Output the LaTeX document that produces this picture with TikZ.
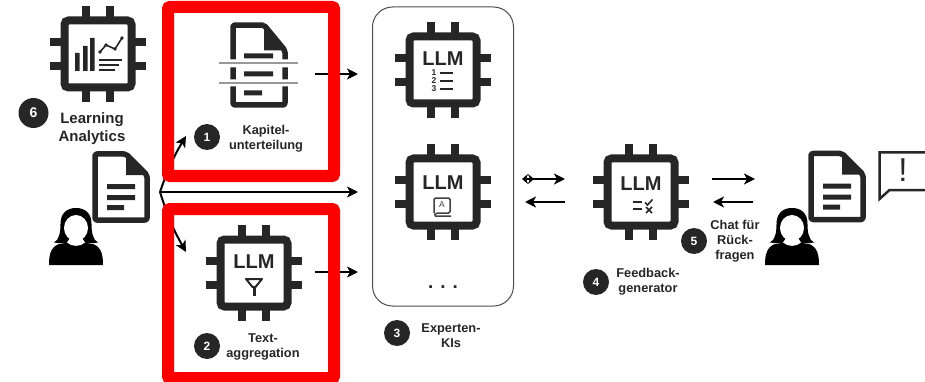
\documentclass[tikz,border=0pt]{standalone}
\usepackage{fontspec}
\setmainfont{Liberation Sans}
\usetikzlibrary{arrows.meta}
\definecolor{ink}{HTML}{262626}
\tikzset{
	lbl/.style={font=\bfseries\fontsize{12.8}{15}\selectfont,text=ink,align=center,inner sep=0pt},
	llmtext/.style={font=\bfseries\fontsize{20}{20}\selectfont,text=ink,inner sep=0pt},
	numdot/.style={circle,fill=ink,text=white,font=\bfseries\fontsize{12}{12}\selectfont,minimum size=26pt,inner sep=0pt},
	redbox/.style={draw=red,line width=12pt,rounded corners=2pt},
	conn/.style={line width=2pt,black},
	>={Stealth[length=11pt,width=11pt,inset=3pt]},
	chip/.pic={
		\draw[ink,line width=8pt,rounded corners=4pt] (-33.5,-33.5) rectangle (33.5,33.5);
		\foreach \d in {-12,12} {
			\draw[ink,line width=8pt] (\d,-37) -- (\d,-48) (\d,37) -- (\d,48);
			\draw[ink,line width=8pt] (-37,\d) -- (-48,\d) (37,\d) -- (48,\d);
		}
	},
	docframe/.pic={
		\draw[ink,line width=5.5pt,line join=round,rounded corners=2pt] (-26,-33) -- (5,-33) -- (26,-12) -- (26,33) -- (-26,33) -- cycle;
		\fill[ink] (5,-33) -- (26,-12) -- (5,-12) -- cycle;
	},
	docicon/.pic={
		\pic {docframe};
		\fill[ink] (-14,-3) rectangle (14,2) (-14,8) rectangle (14,13) (-14,18) rectangle (3,23);
	},
	person/.pic={
		\fill[black] (-27,29) .. controls (-27,18) and (-25,11) .. (-17,8) -- (17,8) .. controls (25,11) and (27,18) .. (27,29) -- cycle;
		\fill[black] (-22,6.5) .. controls (-17,4) and (-15.5,-3) .. (-15.5,-12) .. controls (-15.5,-23) and (-9,-28) .. (0,-28)
			.. controls (9,-28) and (15.5,-23) .. (15.5,-12) .. controls (15.5,-3) and (17,4) .. (22,6.5) -- (6,8.5) -- (-6,8.5) -- cycle;
		\fill[white] (0,-8) ellipse (12 and 13);
		\fill[white] (-6,2) -- (6,2) -- (9,6.5) .. controls (4,11) and (-4,11) .. (-9,6.5) -- cycle;
	}
}
\begin{document}
\begin{tikzpicture}[x=1pt,y=-1pt]
	\useasboundingbox (0,0) rectangle (925,382);
	% connector ends
	\coordinate (fork) at (160,192);
	\coordinate (forkUp) at (186,136);
	\coordinate (forkDown) at (186,252);
	\coordinate (forkMid) at (358,192);
	\coordinate (kapOut) at (315,74);
	\coordinate (kapIn) at (358,74);
	\coordinate (textOut) at (315,272);
	\coordinate (textIn) at (358,272);
	\coordinate (expA) at (522,179);
	\coordinate (genA) at (565,179);
	\coordinate (genB) at (565,202);
	\coordinate (expB) at (525,202);
	\coordinate (genC) at (712,179);
	\coordinate (chatA) at (755,179);
	\coordinate (chatB) at (753,202);
	\coordinate (genD) at (713,202);

	\path[->,conn]
	(fork) edge[bend left=6] (forkUp)
	(fork) edge (forkMid)
	(fork) edge[bend right=6] (forkDown)
	(kapOut) edge (kapIn)
	(textOut) edge (textIn)
	(genB) edge (expB)
	(genC) edge (chatA)
	(chatB) edge (genD);
	\draw[conn,{Stealth[length=6pt,width=10pt]Stealth[length=6pt,width=10pt,reversed]}->] (expA) -- (genA);

	\draw[redbox] (168,7) rectangle (334,176);
	\draw[redbox] (168,209) rectangle (334,378);
	\draw[black!70,line width=1pt,rounded corners=20pt] (372.5,7) rectangle (513.5,306);

	% analytics chip
	\pic (chipAna) at (98,54) {chip};
	\fill[ink] (75,53) rectangle (79.5,71) (83,46) rectangle (87.5,71) (90,38) rectangle (94.5,71);
	\draw[ink,line width=1.6pt] (100,52) -- (106,45) -- (115,49) -- (122,38);
	\foreach \p in {(100,52),(106,45),(115,49),(122,38)} \fill[ink] \p circle (1.8);
	\draw[ink,line width=1.5pt] (99,60) -- (122,60) (99,65) -- (119,65) (99,70) -- (115,70);

	% split document
	\pic (docKap) at (259,65) [yscale=86/71] {docframe};
	\fill[white] (225,59.5) rectangle (293,67.5) (225,79.5) rectangle (293,86.5);
	\fill[ink] (244,53.5) rectangle (273,58.5) (244,71.5) rectangle (273,76.5) (244,90.5) rectangle (262,95.5);
	\draw[black!40,line width=1.2pt] (219,63) -- (298,63) (219,83) -- (298,83);

	% left side
	\pic (docIn) at (121,187) {docicon};
	\pic (userIn) at (76,236) {person};

	% aggregation chip
	\pic (chipText) at (254,273) {chip};
	\node[llmtext] (llmText) at (254,262) {LLM};
	\draw[ink,line width=2pt,line join=round] (246,279) -- (262,279) -- (255.5,287) -- (252.5,287) -- cycle;
	\fill[ink] (252.5,286) rectangle (255.5,295.5);

	% expert chips
	\pic (chipList) at (443,70) {chip};
	\node[llmtext] (llmList) at (443,59) {LLM};
	\foreach \n/\y in {1/73,2/81,3/89} {
		\node[font=\bfseries\fontsize{8.5}{8.5}\selectfont,text=ink,inner sep=0pt] (num\n) at (434,\y) {\n};
		\draw[ink,line width=1.4pt] (440,\y) -- (453,\y);
	}
	\pic (chipBook) at (443,192) {chip};
	\node[llmtext] (llmBook) at (443,183) {LLM};
	\draw[black!75,line width=1.5pt,rounded corners=1.5pt] (434,213) -- (434,198) -- (450,198) -- (450,213) -- (436,213) -- (434,216) -- (451,216);
	\node[font=\fontsize{8.5}{8.5}\selectfont,text=black!75,inner sep=0pt] (bookA) at (442,205) {A};
	\node[font=\bfseries\fontsize{19}{19}\selectfont,text=ink,inner sep=0pt] (moreDots) at (443,287) {. . .};

	% generator chip
	\pic (chipGen) at (641,192) {chip};
	\node[llmtext] (llmGen) at (641,184) {LLM};
	\draw[ink,line width=1.4pt] (633,202) -- (642,202) (633,209) -- (642,209);
	\draw[ink,line width=1.6pt] (645,202.5) -- (647.5,205) -- (652.5,199.5) (646,207) -- (652,213) (652,207) -- (646,213);

	% right side
	\pic (docOut) at (837,186.5) {docicon};
	\pic (userOut) at (792,236) {person};
	\draw[ink,line width=2.5pt] (926,152.5) -- (879.5,152.5) -- (879.5,199) -- (889.5,190) -- (926,190);
	\node[font=\fontsize{33}{33}\selectfont,text=ink,inner sep=0pt] (warnMark) at (903,170) {!};

	% labels
	\node[numdot,minimum size=30pt,font=\bfseries\fontsize{14}{14}\selectfont] (numSix) at (33.5,113) {6};
	\node[lbl,font=\bfseries\fontsize{15}{18}\selectfont] (lblAna) at (92,129) {Learning\\Analytics};
	\node[numdot] (numOne) at (207,137) {1};
	\node[lbl] (lblKap) at (266,138.5) {Kapitel-\\unterteilung};
	\node[numdot] (numTwo) at (207,346) {2};
	\node[lbl] (lblText) at (263,346.5) {Text-\\aggregation};
	\node[numdot] (numThree) at (397,333) {3};
	\node[lbl] (lblExp) at (451,335.5) {Experten-\\KIs};
	\node[numdot] (numFour) at (596,282) {4};
	\node[lbl] (lblGen) at (648,281.5) {Feedback-\\generator};
	\node[numdot] (numFive) at (694,241) {5};
	\node[lbl] (lblChat) at (735,241) {Chat für\\Rück-\\fragen};
\end{tikzpicture}
\end{document}
